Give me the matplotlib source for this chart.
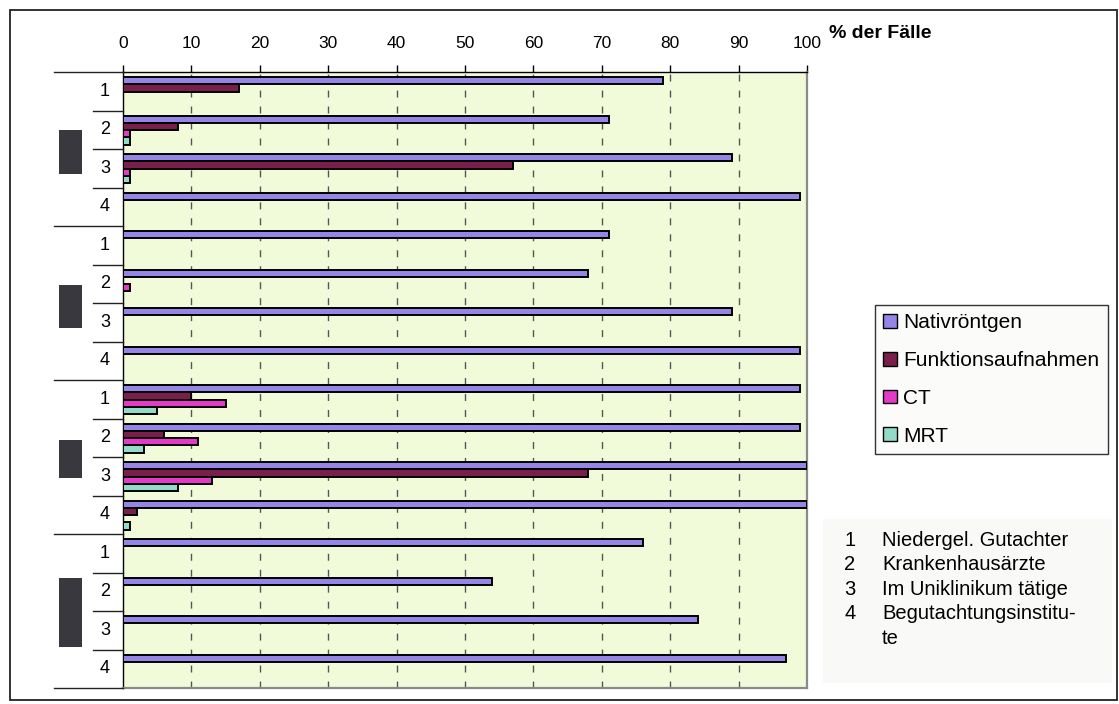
import numpy as np
import matplotlib
matplotlib.use("Agg")
import matplotlib.pyplot as plt
from matplotlib.patches import Patch, Rectangle
from matplotlib.lines import Line2D
from matplotlib.transforms import blended_transform_factory

plt.rcParams['font.family'] = ['Liberation Sans', 'DejaVu Sans']

# Data: four groups with four sub-rows each (1-4 = type of assessor)
row_labels = ['1', '2', '3', '4'] * 4
series_names = ['Nativröntgen', 'Funktionsaufnahmen', 'CT', 'MRT']
nativ = [79, 71, 89, 99, 71, 68, 89, 99, 99, 99, 100, 100, 76, 54, 84, 97]
funktion = [17, 8, 57, 0, 0, 0, 0, 0, 10, 6, 68, 2, 0, 0, 0, 0]
ct = [0, 1, 1, 0, 0, 1, 0, 0, 15, 11, 13, 0, 0, 0, 0, 0]
mrt = [0, 1, 1, 0, 0, 0, 0, 0, 5, 3, 8, 1, 0, 0, 0, 0]
x_ticks = [0, 10, 20, 30, 40, 50, 60, 70, 80, 90, 100]
key_numbers = ['1', '2', '3', '4', '']
key_texts = ['Niedergel. Gutachter', 'Krankenhausärzte', 'Im Uniklinikum tätige',
             'Begutachtungsinstitu-', 'te']

colors = ['#9485e6', '#7a1f4c', '#e539c8', '#93dbc9']
W, H = 1119, 704
fig = plt.figure(figsize=(W / 100, H / 100), dpi=100)
fig.patch.set_facecolor('white')

def fx(px):
    return px / W

def fy(py):
    return 1 - py / H

ax = fig.add_axes([fx(123), fy(688), fx(807) - fx(123), fy(72) - fy(688)])
ax.set_facecolor('#f2fbd9')
ax.set_xlim(0, 100)
ax.set_ylim(16, 0)

n_rows = len(row_labels)
bar_h = 0.19
offset0 = 0.13
for k, vals in enumerate([nativ, funktion, ct, mrt]):
    vals = np.asarray(vals, dtype=float)
    idx = np.nonzero(vals > 0)[0]
    ax.barh(idx + offset0 + k * bar_h, vals[idx], height=bar_h, align='edge',
            color=colors[k], edgecolor='black', linewidth=1.4, zorder=3)

# dashed vertical gridlines
for t in x_ticks[1:-1]:
    ax.axvline(t, color='#555555', linewidth=1.0, linestyle=(0, (5, 6.5)), zorder=1)

ax.xaxis.tick_top()
ax.set_xticks(x_ticks)
ax.set_xticklabels([str(t) for t in x_ticks], fontsize=12.5)
ax.tick_params(axis='x', direction='out', length=5, width=1, pad=10, color='black')
ax.set_yticks([])

ax.spines['left'].set_color('black')
ax.spines['left'].set_linewidth(1.0)
ax.spines['top'].set_color('black')
ax.spines['top'].set_linewidth(1.0)
for s in ['right', 'bottom']:
    ax.spines[s].set_color('#8a8a8a')
    ax.spines[s].set_linewidth(1.6)

# category axis on the left: row numbers, separators and group blocks
tr = blended_transform_factory(fig.transFigure, ax.transData)
for i, lab in enumerate(row_labels):
    fig.text(fx(105), i + 0.5, lab, transform=tr, fontsize=13,
             ha='center', va='center')
for i in range(n_rows + 1):
    x0 = fx(54) if i % 4 == 0 else fx(93)
    fig.add_artist(Line2D([x0, fx(123)], [i, i], transform=tr, color='#222222',
                          linewidth=1.0))

block_spans = [(1.51, 2.65), (5.53, 6.65), (9.56, 10.55), (13.14, 14.94)]
for y0, y1 in block_spans:
    fig.add_artist(Rectangle((fx(59), y0), fx(82) - fx(59), y1 - y0, transform=tr,
                             facecolor='#38383e', edgecolor='none'))

# axis title
fig.text(fx(829), fy(34), '% der Fälle', fontsize=14, fontweight='bold',
         ha='left', va='center')

# series legend
handles = [Patch(facecolor=c, edgecolor='black', linewidth=1.0) for c in colors]
leg = fig.legend(handles, series_names, loc='upper left',
                 bbox_to_anchor=(fx(875), fy(305)), fontsize=15, frameon=True,
                 fancybox=False, edgecolor='#333333', facecolor='#fbfbf9',
                 framealpha=1, handlelength=0.65, handleheight=0.65,
                 handletextpad=0.3, labelspacing=0.9, borderpad=0.4,
                 borderaxespad=0)
leg.get_frame().set_linewidth(1.0)

# key for the row numbers
fig.add_artist(Rectangle((fx(823), fy(683)), fx(1112) - fx(823), fy(519) - fy(683),
                         transform=fig.transFigure, facecolor='#f9f9f7',
                         edgecolor='none'))
line_gap = 24.6
for j, (num, txt) in enumerate(zip(key_numbers, key_texts)):
    ypx = 540 + j * line_gap
    if num:
        fig.text(fx(850), fy(ypx), num, fontsize=14.5, ha='center', va='center')
    fig.text(fx(882), fy(ypx), txt, fontsize=14.5, ha='left', va='center')

# outer frame of the chart
fig.add_artist(Rectangle((fx(10), fy(700)), fx(1117) - fx(10), fy(10) - fy(700),
                         transform=fig.transFigure, facecolor='none',
                         edgecolor='#222222', linewidth=1.3))

fig.savefig('out.png', dpi=100, facecolor='white')
